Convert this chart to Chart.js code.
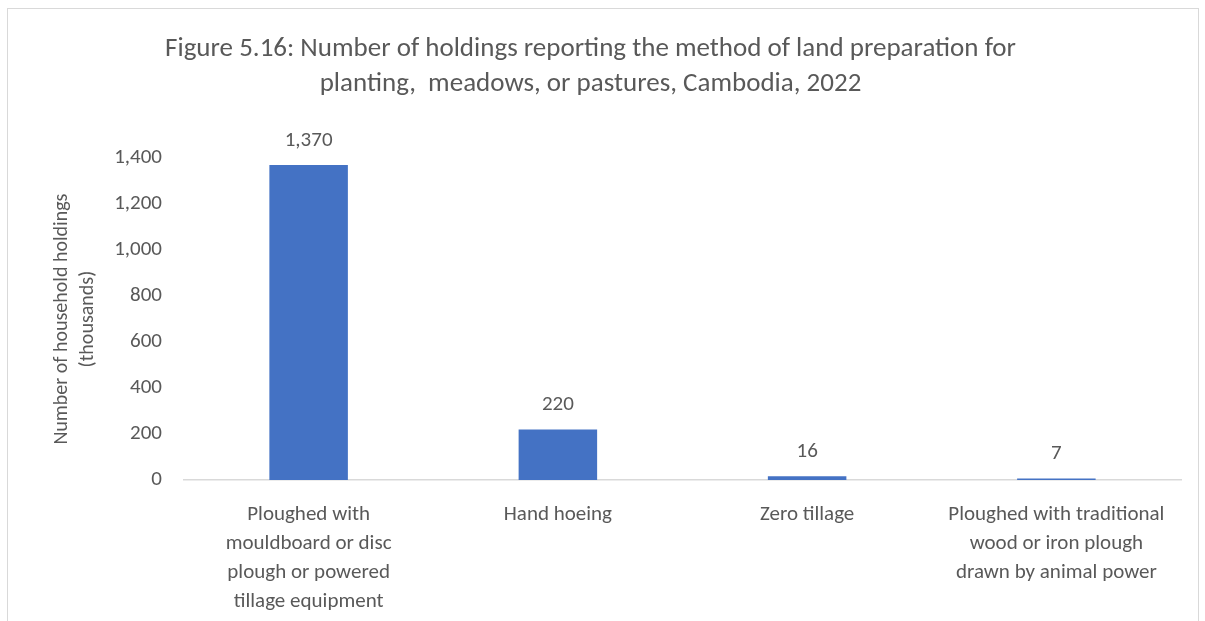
<!DOCTYPE html>
<html lang="en">
<head>
    <meta charset="UTF-8">
    <title>Land preparation</title>
    <script src="https://cdn.jsdelivr.net/npm/chart.js"></script>
    <style>
        html, body { margin: 0; padding: 0; background: #fff; }
        #frame {
            position: absolute; left: 7px; top: 8px; width: 1192px; height: 640px;
            border: 1px solid #d9d9d9; box-sizing: border-box;
        }
        #wrap { position: absolute; left: 0; top: 0; width: 1205px; height: 621px; }
    </style>
</head>
<body>
    <div id="frame"></div>
    <div id="wrap">
        <canvas id="landChart" width="1205" height="621"></canvas>
    </div>

    <script>
        // Holdings by land preparation method (thousands)
        const methods = [
            ['Ploughed with', 'mouldboard or disc', 'plough or powered', 'tillage equipment'],
            'Hand hoeing',
            'Zero tillage',
            ['Ploughed with traditional', 'wood or iron plough', 'drawn by animal power']
        ];
        const holdings = [1370, 220, 16, 7];
        const titleLines = [
            'Figure 5.16: Number of holdings reporting the method of land preparation for',
            'planting,  meadows, or pastures, Cambodia, 2022'
        ];
        const yTitle = ['Number of household holdings', '(thousands)'];

        const FONT = 'Carlito, Lato, "Liberation Sans", sans-serif';
        const GREY = '#595959';

        // Value labels above each bar
        const valueLabels = {
            id: 'valueLabels',
            afterDatasetsDraw(chart) {
                const ctx = chart.ctx;
                const meta = chart.getDatasetMeta(0);
                ctx.save();
                ctx.font = '21px ' + FONT;
                ctx.fillStyle = GREY;
                ctx.textAlign = 'center';
                ctx.textBaseline = 'bottom';
                meta.data.forEach((bar, i) => {
                    ctx.fillText(holdings[i].toLocaleString('en-US'), bar.x, bar.y - 14);
                });
                ctx.restore();
            }
        };

        new Chart(document.getElementById('landChart'), {
            type: 'bar',
            data: {
                labels: methods,
                datasets: [{
                    data: holdings,
                    backgroundColor: '#4472C4',
                    barPercentage: 0.315,
                    categoryPercentage: 1
                }]
            },
            options: {
                responsive: false,
                animation: false,
                layout: { padding: { left: 0, right: 24, top: 0, bottom: 0 } },
                plugins: {
                    legend: { display: false },
                    tooltip: { enabled: false },
                    title: {
                        display: true,
                        text: titleLines,
                        color: GREY,
                        font: { family: FONT, size: 27, weight: 'normal', lineHeight: 1.3 },
                        padding: { top: 32, bottom: 56 }
                    }
                },
                scales: {
                    x: {
                        grid: { display: false },
                        border: { display: true, color: '#d9d9d9', width: 1.5 },
                        ticks: {
                            color: GREY,
                            font: { family: FONT, size: 21, lineHeight: 1.38 },
                            maxRotation: 0,
                            padding: 12
                        },
                        afterFit(scale) { scale.height = 141; }
                    },
                    y: {
                        min: 0,
                        max: 1400,
                        grid: { display: false, drawTicks: false },
                        border: { display: false },
                        ticks: {
                            stepSize: 200,
                            color: GREY,
                            font: { family: FONT, size: 21 },
                            padding: 22,
                            callback: v => v.toLocaleString('en-US')
                        },
                        title: {
                            display: true,
                            text: yTitle,
                            color: GREY,
                            font: { family: FONT, size: 20, lineHeight: 1.3 },
                            padding: { top: 49, bottom: 0 }
                        },
                        afterFit(scale) { scale.width = 184; }
                    }
                }
            },
            plugins: [valueLabels]
        });
    </script>
</body>
</html>
